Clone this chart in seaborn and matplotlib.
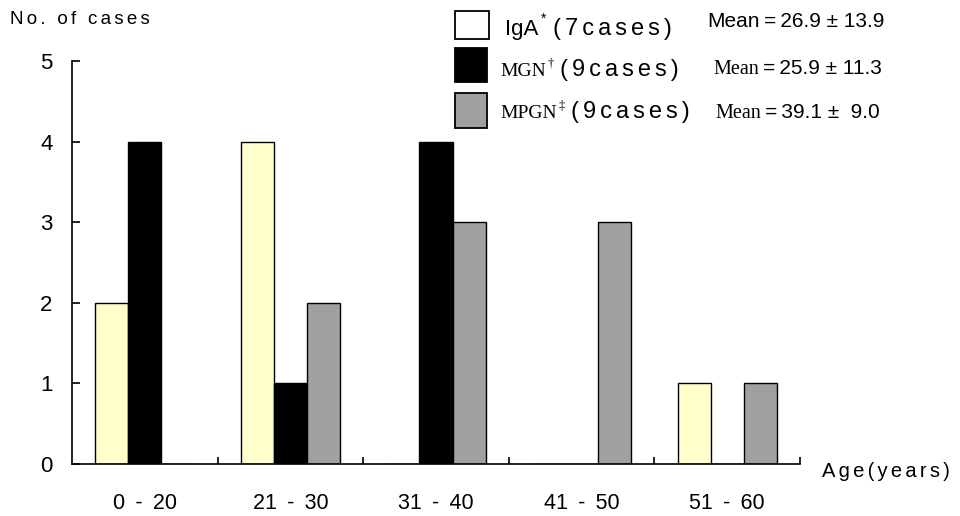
import matplotlib
matplotlib.use("Agg")
import matplotlib.pyplot as plt
from matplotlib.patches import Rectangle
from matplotlib.ticker import FixedLocator
import seaborn as sns
import pandas as pd

categories = ["0 - 20", "21 - 30", "31 - 40", "41 - 50", "51 - 60"]
iga = [2, 4, 0, 0, 1]
mgn = [4, 1, 4, 0, 0]
mpgn = [0, 2, 3, 3, 1]
series_names = ["IgA", "MGN", "MPGN"]
colors = ["#FFFFCC", "#000000", "#A0A0A0"]

rows = []
for name, vals in zip(series_names, [iga, mgn, mpgn]):
    for c, v in zip(categories, vals):
        rows.append({"age": c, "group": name, "cases": v})
df = pd.DataFrame(rows)

sns.set_theme(style="white")
SANS = ["Liberation Sans", "DejaVu Sans"]
SERIF = ["Liberation Serif", "DejaVu Serif"]
plt.rcParams["font.family"] = SANS

W, H = 960, 516
fig = plt.figure(figsize=(W / 100, H / 100), dpi=100)
ax = fig.add_axes([72 / W, 1 - 464 / H, 728 / W, (464 - 61) / H])

sns.barplot(data=df, x="age", y="cases", hue="group", hue_order=series_names,
            palette=colors, saturation=1, width=0.68, edgecolor="black",
            linewidth=1.0, ax=ax, legend=False, errorbar=None)

HS = "\u200a"
TS = "\u2009"


def track(s, sp=HS * 2):
    return sp.join(list(s))


ax.set_xlim(-0.5, 4.5)
ax.set_ylim(0, 5)
ax.set_yticks([0, 1, 2, 3, 4, 5])
ax.set_xticks(range(len(categories)))
ax.set_xticklabels([c.replace(" - ", " " + TS + "-" + TS + " ") for c in categories])
ax.set_xlabel("")
ax.set_ylabel("")
for s in ["top", "right"]:
    ax.spines[s].set_visible(False)
for s in ["left", "bottom"]:
    ax.spines[s].set_color("black")
    ax.spines[s].set_linewidth(1.2)
ax.tick_params(axis="y", which="major", direction="in", length=6, width=1.2,
               color="black", labelsize=16, pad=14, left=True, labelcolor="black")
ax.tick_params(axis="x", which="major", length=0, labelsize=15.5, pad=21,
               labelcolor="black")
ax.xaxis.set_minor_locator(FixedLocator([0.5, 1.5, 2.5, 3.5, 4.5]))
ax.tick_params(axis="x", which="minor", direction="in", length=5, width=1.2,
               color="black", bottom=True)
ax.grid(False)

fig.text(10 / W, 1 - 24 / H, track("No. of cases"), fontsize=13.5, va="baseline",
         ha="left", color="black")
fig.text(822 / W, 1 - 477 / H, track("Age(years)"), fontsize=14.5, va="baseline",
         ha="left", color="black")

# legend-like annotation
sq = [(455, 11, 34, 28), (455, 48, 32, 34), (455, 93, 32, 35)]
for (x0, y0, w0, h0), col in zip(sq, colors):
    fig.add_artist(Rectangle((x0 / W, 1 - (y0 + h0) / H), w0 / W, h0 / H,
                             transform=fig.transFigure,
                             facecolor="white" if col == "#FFFFCC" else col,
                             edgecolor="black", linewidth=1.3))

renderer = fig.canvas.get_renderer()


def place(x_px, base_px, pieces):
    x = x_px
    for item in pieces:
        if isinstance(item, (int, float)):
            x += item
            continue
        txt, size, fam, dy = item
        t = fig.text(x / W, 1 - (base_px - dy) / H, txt, fontsize=size, family=fam,
                     va="baseline", ha="left", color="black")
        x += t.get_window_extent(renderer).width


place(505, 35, [("IgA", 16, SANS, 0), 2, ("*", 10, SANS, 12), 7,
                (track("(7cases)"), 17, SANS, 0)])
place(500, 76, [("MGN", 14, SERIF, 0), 2, ("\u2020", 9, SERIF, 10), 6,
                (track("(9cases)"), 17, SANS, 0)])
place(500, 118, [("MPGN", 14, SERIF, 0), 2, ("\u2021", 9, SERIF, 10), 6,
                 (track("(9cases)"), 17, SANS, 0)])

place(707, 27, [("Mean", 15, SANS, 0),
                (TS + "=" + TS + "26.9 \u00b1 13.9", 15, SANS, 0)])
place(713, 74, [("Mean", 14.5, SERIF, 0),
                (TS + "=" + TS + "25.9 \u00b1 11.3", 15, SANS, 0)])
place(715, 118, [("Mean", 14.5, SERIF, 0),
                 (TS + "=" + TS + "39.1 \u00b1  9.0", 15, SANS, 0)])

fig.savefig("out.png", dpi=100)
